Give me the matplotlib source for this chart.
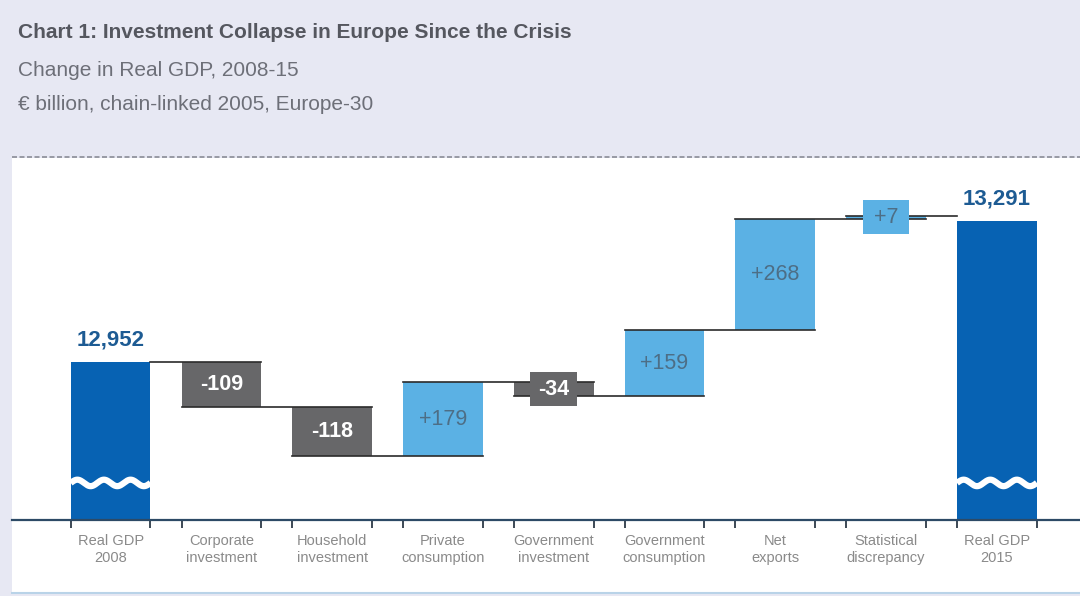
import matplotlib
matplotlib.use("Agg")
import matplotlib.pyplot as plt
import matplotlib.patches as mpatches
import numpy as np

categories = ["Real GDP\n2008", "Corporate\ninvestment", "Household\ninvestment",
              "Private\nconsumption", "Government\ninvestment", "Government\nconsumption",
              "Net\nexports", "Statistical\ndiscrepancy", "Real GDP\n2015"]
start_value = 12952
end_value = 13291
changes = [-109, -118, 179, -34, 159, 268, 7]
change_labels = ["-109", "-118", "+179", "-34", "+159", "+268", "+7"]

W, H = 1080, 596
fig = plt.figure(figsize=(W / 100, H / 100), dpi=100)
fig.patch.set_facecolor("#e7e8f3")

# white chart panel
fig.add_artist(mpatches.Rectangle((12 / W, 1 - 592 / H), 1 - 12 / W, (592 - 158) / H,
                                  transform=fig.transFigure, facecolor="white",
                                  edgecolor="none", zorder=-10))
# dashed separator
fig.add_artist(plt.Line2D([12 / W, 1], [1 - 157 / H, 1 - 157 / H], transform=fig.transFigure,
                          color="#8a8c96", lw=1.2, ls=(0, (3, 1.5)), zorder=-5))
fig.add_artist(plt.Line2D([12 / W, 1], [1 - 593 / H, 1 - 593 / H], transform=fig.transFigure,
                          color="#b9d3e8", lw=1.5, zorder=-5))

fig.text(18 / W, 1 - 33 / H, "Chart 1: Investment Collapse in Europe Since the Crisis",
         fontsize=15, fontweight="bold", color="#55575f", va="center", family="Liberation Sans")
fig.text(18 / W, 1 - 70 / H, "Change in Real GDP, 2008-15", fontsize=15, color="#6d6f78",
         va="center", family="Liberation Sans")
fig.text(18 / W, 1 - 104 / H, "€ billion, chain-linked 2005, Europe-30", fontsize=15,
         color="#6d6f78", va="center", family="Liberation Sans")

# axes: bottom at y=520px, top at y=160px
ax_bottom_px, ax_top_px = 520, 160
ax = fig.add_axes([12 / W, 1 - ax_bottom_px / H, 1 - 12 / W, (ax_bottom_px - ax_top_px) / H])
ax.set_facecolor("none")
ax.set_zorder(5)

px_per_unit = (362 - 221) / (end_value - start_value)
ymin = start_value - (ax_bottom_px - 362) / px_per_unit
ymax = start_value + (362 - ax_top_px) / px_per_unit
ax.set_ylim(ymin, ymax)
n = len(categories)
ax.set_xlim(-0.89, n - 1 + 0.75)

dark_blue = "#0762b3"
light_blue = "#5bb1e4"
gray = "#676769"
bw = 0.72

x = np.arange(n)
# totals
for xi, val in [(0, start_value), (n - 1, end_value)]:
    ax.bar(xi, val - ymin, bottom=ymin, width=bw, color=dark_blue, zorder=2)
    ax.text(xi, val + 12 / px_per_unit, f"{val:,}", ha="center", va="bottom",
            fontsize=16, fontweight="bold", color="#1d5b93", family="Liberation Sans")
    # wavy break
    xs = np.linspace(xi - bw / 2, xi + bw / 2, 200)
    ys = 0.103 + 0.009 * np.sin((xs - (xi - bw / 2)) / bw * 2 * np.pi * 3)
    ax.plot(xs, ys, color="white", lw=4.5, transform=ax.get_xaxis_transform(), zorder=3,
            solid_capstyle="butt")

level = start_value
levels = [level]
for i, (c, lab) in enumerate(zip(changes, change_labels)):
    xi = i + 1
    new = level + c
    lo, hi = min(level, new), max(level, new)
    col = light_blue if c > 0 else gray
    ax.bar(xi, hi - lo, bottom=lo, width=bw, color=col, zorder=2)
    txt_col = "white" if c < 0 else "#4d6e86"
    weight = "bold" if c < 0 else "normal"
    height_px = (hi - lo) * px_per_unit
    if height_px < 30:
        bh = 34 / px_per_unit
        mid = (lo + hi) / 2
        ax.add_patch(mpatches.Rectangle((xi - 0.21, mid - bh / 2), 0.42, bh, facecolor=col,
                                        edgecolor="none", zorder=3))
        ax.text(xi, mid, lab, ha="center", va="center", fontsize=15.5, color=txt_col,
                fontweight=weight, zorder=4, family="Liberation Sans")
    else:
        ax.text(xi, (lo + hi) / 2, lab, ha="center", va="center", fontsize=15.5, color=txt_col,
                fontweight=weight, zorder=4, family="Liberation Sans")
    level = new
    levels.append(level)

# connectors
for i in range(n - 1):
    lv = levels[i]
    x0 = i - bw / 2 if i > 0 else i + bw / 2
    x1 = i + 1 + bw / 2 if i + 1 < n - 1 else i + 1 - bw / 2
    ax.plot([x0, x1], [lv, lv], color="#2b2b2b", lw=1.2, zorder=2.5)

# axis styling
for s in ["top", "right", "left"]:
    ax.spines[s].set_visible(False)
ax.spines["bottom"].set_color("#2d4a66")
ax.spines["bottom"].set_linewidth(1.6)
ax.set_yticks([])
edges = np.concatenate([x - bw / 2, x + bw / 2])
ax.set_xticks(edges)
ax.set_xticklabels([])
ax.tick_params(axis="x", direction="out", length=6, width=1.3, color="#2d3a48")
for xi, lab in zip(x, categories):
    ax.text(xi, -0.04, lab, ha="center", va="top", fontsize=10.5, color="#8a8a8a",
            transform=ax.get_xaxis_transform(), linespacing=1.2, family="Liberation Sans")

fig.savefig("out.png", dpi=100, facecolor=fig.get_facecolor())
